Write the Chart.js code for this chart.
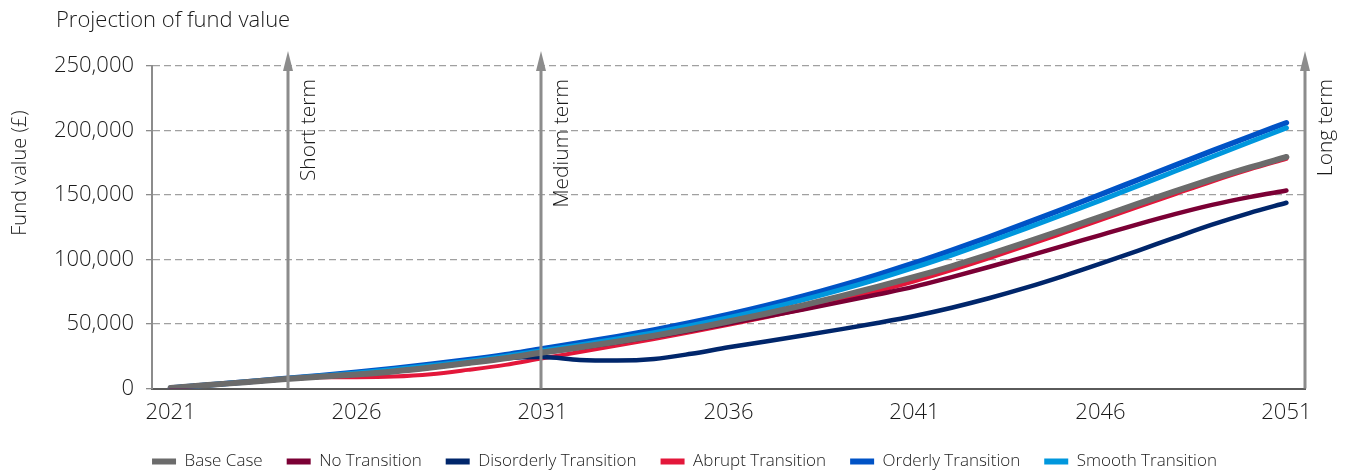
<!DOCTYPE html>
<html>
<head>
<meta charset="utf-8">
<script src="https://cdn.jsdelivr.net/npm/chart.js@4"></script>
<style>
  body { margin: 0; background: #fff; }
  #wrap { position: relative; width: 1353px; height: 474px; }
  #title { position: absolute; left: 56px; top: 3px; font: 300 22px 'Open Sans', sans-serif; color: #1a1a1a; }
</style>
</head>
<body>
<div id="wrap">
  <div id="title">Projection of fund value</div>
  <canvas id="fundChart" width="1353" height="474"></canvas>
</div>
<script>
const years = ['2021','2022','2023','2024','2025','2026','2027','2028','2029','2030','2031','2032','2033','2034','2035','2036','2037','2038','2039','2040','2041','2042','2043','2044','2045','2046','2047','2048','2049','2050','2051'];

const baseCase = [500, 2700, 5000, 7200, 9200, 11000, 13300, 16300, 19800, 23500, 28000, 32000, 36300, 41000, 46200, 52000, 58000, 64500, 71500, 78800, 86500, 94800, 103800, 113300, 123100, 133100, 143100, 152900, 162300, 171200, 179500];
const noTransition = [500, 2700, 5000, 7200, 9200, 11000, 13300, 16300, 19800, 23500, 27800, 31700, 35800, 40200, 45000, 50500, 55800, 61300, 67000, 72900, 79000, 86400, 94200, 102300, 110600, 119000, 127300, 135200, 142400, 148400, 153500];
const disorderly = [500, 2700, 5000, 7200, 9200, 11000, 13300, 16300, 19800, 23500, 24500, 22200, 21800, 23000, 27000, 32000, 36500, 41100, 45900, 50900, 56300, 62700, 70000, 78200, 87200, 96800, 106800, 117000, 127000, 136000, 144000];
const abrupt = [500, 2700, 5000, 7100, 8700, 8800, 9300, 11100, 14500, 18400, 23500, 28300, 33300, 38500, 43900, 49500, 55300, 61500, 68200, 75400, 83200, 91800, 101000, 110600, 120500, 130500, 140600, 150600, 160500, 169700, 178000];
const orderly = [500, 2800, 5200, 7600, 10000, 12600, 15600, 18800, 22300, 26300, 31000, 35500, 40300, 45500, 51200, 57400, 64200, 71600, 79600, 88200, 97400, 107200, 117500, 128200, 139200, 150400, 161700, 173000, 184200, 195200, 206000];
const smooth = [500, 2800, 5100, 7400, 9700, 12100, 14900, 18000, 21300, 25100, 29500, 33800, 38400, 43400, 48900, 54900, 61500, 68700, 76500, 84900, 93900, 103500, 113600, 124100, 134900, 145900, 157100, 168400, 179700, 190900, 202000];

const yTicks = [0, 50000, 100000, 150000, 200000, 250000];

// arrows: position as category index
const terms = [
  { label: 'Short term', at: 3.15 },
  { label: 'Medium term', at: 9.95 },
  { label: 'Long term', at: 30.5 }
];

const FONT = "'Open Sans', sans-serif";

const termArrows = {
  id: 'termArrows',
  afterLayout(chart) {
    // original legend sits a little right of centre
    chart.legend.left += 30;
    chart.legend.right += 30;
  },
  afterDatasetsDraw(chart) {
    const { ctx, chartArea, scales: { x } } = chart;
    const tipY = chartArea.top - 15;
    ctx.save();
    terms.forEach(t => {
      const px = Math.round(x.getPixelForValue(t.at));
      ctx.strokeStyle = '#8c8c8c';
      ctx.fillStyle = '#8c8c8c';
      ctx.lineWidth = 3;
      ctx.beginPath();
      ctx.moveTo(px, chartArea.bottom);
      ctx.lineTo(px, tipY + 18);
      ctx.stroke();
      ctx.beginPath();
      ctx.moveTo(px, tipY);
      ctx.lineTo(px - 5, tipY + 20);
      ctx.lineTo(px + 5, tipY + 20);
      ctx.closePath();
      ctx.fill();

      ctx.save();
      ctx.translate(px + 21, chartArea.top + 13);
      ctx.rotate(-Math.PI / 2);
      ctx.fillStyle = '#1a1a1a';
      ctx.font = '300 21px ' + FONT;
      ctx.textAlign = 'right';
      ctx.textBaseline = 'middle';
      ctx.fillText(t.label, 0, 0);
      ctx.restore();
    });

    // y axis title, sits above the axis middle like the original
    ctx.save();
    ctx.translate(20, chartArea.top + 107);
    ctx.rotate(-Math.PI / 2);
    ctx.fillStyle = '#1a1a1a';
    ctx.font = '300 20px ' + FONT;
    ctx.textAlign = 'center';
    ctx.textBaseline = 'middle';
    ctx.fillText('Fund value (£)', 0, 0);
    ctx.restore();
    ctx.restore();
  }
};

function series(label, data, color, width, order) {
  return {
    label: label,
    data: data,
    borderColor: color,
    backgroundColor: color,
    borderWidth: width,
    pointRadius: 0,
    cubicInterpolationMode: 'monotone',
    borderCapStyle: 'round',
    order: order || 0
  };
}

const ctx = document.getElementById('fundChart');

const chart = new Chart(ctx, {
  type: 'line',
  data: {
    labels: years,
    datasets: [
      series('Base Case', baseCase, '#6b6b6b', 6),
      series('No Transition', noTransition, '#7b0035', 4.5),
      series('Disorderly Transition', disorderly, '#00266b', 4.5),
      series('Abrupt Transition', abrupt, '#e3173a', 4),
      series('Orderly Transition', orderly, '#0053c6', 5.5, 1),
      series('Smooth Transition', smooth, '#0097dd', 5)
    ]
  },
  options: {
    responsive: false,
    animation: false,
    layout: { padding: { top: 66, right: 48, left: 4, bottom: -6 } },
    plugins: {
      tooltip: { enabled: false },
      legend: {
        position: 'bottom',
        labels: {
          font: { family: FONT, size: 17, weight: 300 },
          color: '#1a1a1a',
          boxWidth: 24,
          boxHeight: 6,
          useBorderRadius: true,
          borderRadius: 3,
          padding: 24,
          generateLabels(chart) {
            return chart.data.datasets.map((ds, i) => ({
              text: ds.label,
              fillStyle: ds.borderColor,
              strokeStyle: ds.borderColor,
              lineWidth: 0,
              hidden: false,
              datasetIndex: i,
              fontColor: '#1a1a1a'
            }));
          }
        }
      }
    },
    scales: {
      x: {
        offset: true,
        grid: { display: false },
        border: { display: true, color: '#5a5a5a', width: 2 },
        ticks: {
          autoSkip: false,
          maxRotation: 0,
          padding: 3,
          color: '#1a1a1a',
          font: { family: FONT, size: 22, weight: 300 },
          callback(value, index) { return index % 5 === 0 ? years[index] : ''; }
        }
      },
      y: {
        min: 0,
        max: 250000,
        afterBuildTicks(scale) { scale.ticks = yTicks.map(v => ({ value: v })); },
        afterFit(scale) { scale.width = 148; },
        grid: { color: '#a0a0a0', lineWidth: 1.3, tickLength: 6, tickColor: '#8c8c8c' },
        border: { display: true, color: '#8c8c8c', width: 2, dash: [7, 4] },
        ticks: {
          padding: 12,
          color: '#1a1a1a',
          font: { family: FONT, size: 22, weight: 300 },
          callback(v) { return v.toLocaleString('en-GB'); }
        }
      }
    }
  },
  plugins: [termArrows]
});
</script>
</body>
</html>
